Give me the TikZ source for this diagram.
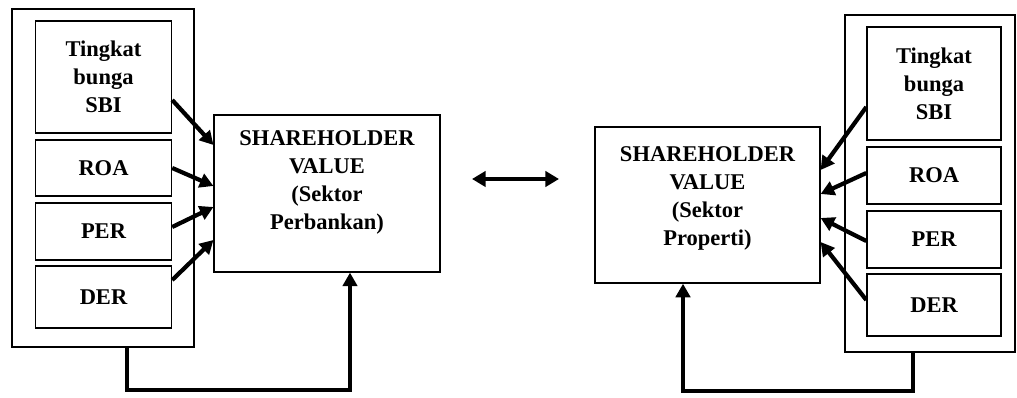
\documentclass[tikz,border=0pt]{standalone}
\usepackage{fontspec}
\setmainfont{Liberation Serif}
\usetikzlibrary{arrows.meta,calc,positioning}
\newcommand{\lbl}{\fontsize{16}{20}\selectfont\bfseries}
\tikzset{
  inbox/.style={draw,line width=1pt,minimum width=3.4cm,align=center,font=\lbl},
  outbox/.style={draw,line width=1pt},
  svbox/.style={draw,line width=1pt,minimum width=5.64cm,minimum height=3.92cm},
  svtext/.style={inner sep=0pt,align=center,font=\lbl},
  infl/.style={line width=3pt,-{Triangle[length=3.4mm,width=3.6mm]}},
  feed/.style={line width=3pt,-{Triangle[length=3.4mm,width=3.6mm]}},
  both/.style={line width=3pt,{Triangle[length=3.4mm,width=3.8mm]}-{Triangle[length=3.4mm,width=3.8mm]}}
}
\begin{document}
\begin{tikzpicture}[x=0.025cm,y=-0.025cm]
 \useasboundingbox (0,0) rectangle (1017,398);

 \node[outbox,minimum width=4.55cm,minimum height=8.45cm] (outL) at (103,178) {};
 \node[inbox,minimum height=2.8cm] (sbiL) at (103.5,77) {Tingkat\\bunga\\SBI};
 \node[inbox,minimum height=1.4cm] (roaL) at (103.5,168) {ROA};
 \node[inbox,minimum height=1.425cm] (perL) at (103.5,231.5) {PER};
 \node[inbox,minimum height=1.55cm] (derL) at (103.5,297) {DER};
 \node[svbox] (svL) at (327,193.5) {};
 \node[svtext,below=0.4cm of svL.north] (svLtxt) {SHAREHOLDER\\VALUE\\(Sektor\\Perbankan)};

 \node[svbox,minimum width=5.62cm,minimum height=3.9cm] (svR) at (707.5,205) {};
 \node[svtext,below=0.5cm of svR.north] (svRtxt) {SHAREHOLDER\\VALUE\\(Sektor\\Properti)};
 \node[outbox,minimum width=4.25cm,minimum height=8.42cm] (outR) at (930,183.5) {};
 \node[inbox,minimum width=3.35cm,minimum height=2.825cm] (sbiR) at (934,83.5) {Tingkat\\bunga\\SBI};
 \node[inbox,minimum width=3.35cm,minimum height=1.425cm] (roaR) at (934,175.5) {ROA};
 \node[inbox,minimum width=3.35cm,minimum height=1.425cm] (perR) at (934,239.5) {PER};
 \node[inbox,minimum width=3.35cm,minimum height=1.55cm] (derR) at (934,305) {DER};

 \draw[infl] ($(sbiL.east)+(0,23)$) -- ($(svL.west)+(0,-48.5)$);
 \draw[infl] (roaL.east) -- ($(svL.west)+(0,-7.5)$);
 \draw[infl] ($(perL.east)+(0,-4.5)$) -- ($(svL.west)+(0,13.5)$);
 \draw[infl] ($(derL.east)+(0,-17)$) -- ($(svL.west)+(0,46.5)$);

 \draw[infl] ($(sbiR.west)+(0,23.5)$) -- ($(svR.east)+(0,-35)$);
 \draw[infl] ($(roaR.west)+(0,-2.5)$) -- ($(svR.east)+(0,-11)$);
 \draw[infl] ($(perR.west)+(0,1.5)$) -- ($(svR.east)+(0,13)$);
 \draw[infl] ($(derR.west)+(0,-5)$) -- ($(svR.east)+(0,37)$);

 \draw[feed] ($(outL.south)+(24,0)$) -- ++(0,42) -| ($(svL.south)+(23,0)$);
 \draw[feed] ($(outR.south)+(-17,0)$) -- ++(0,38) -| ($(svR.south)+(-24.5,0)$);

 \coordinate (dblL) at (472,179);
 \coordinate (dblR) at (559,179);
 \draw[both] (dblL) -- (dblR);

\end{tikzpicture}
\end{document}
